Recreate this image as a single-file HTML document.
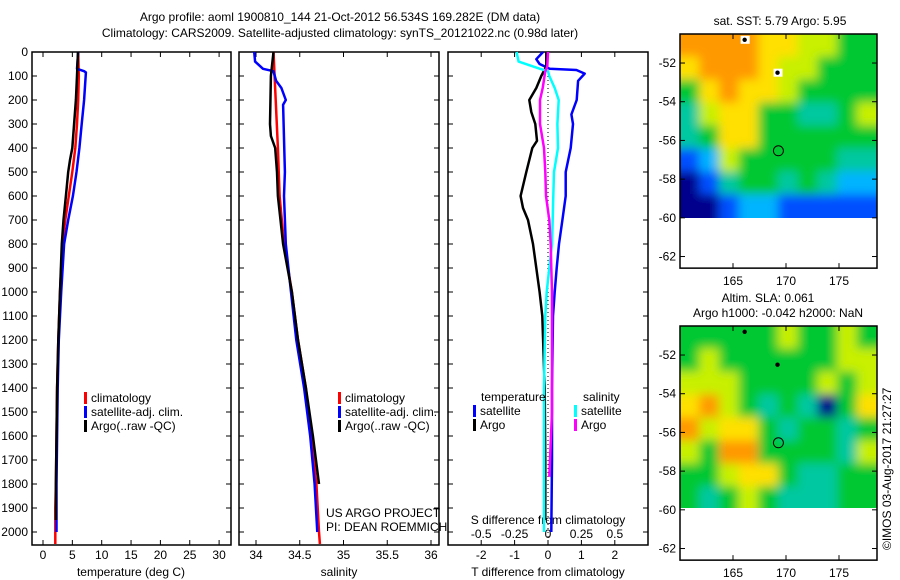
<!DOCTYPE html>
<html><head><meta charset="utf-8"><style>
html,body{margin:0;padding:0;background:#fff;}
svg{display:block;font-family:"Liberation Sans",sans-serif;}
text{font-size:12px;fill:#000;}
</style></head><body>
<svg id="fig" width="900" height="580" viewBox="0 0 900 580">
<defs>
<filter id="blur1" x="-0.2" y="-0.2" width="1.4" height="1.4"><feGaussianBlur stdDeviation="5"/></filter>
<clipPath id="clipA"><rect x="680" y="34" width="197" height="184"/></clipPath>
<clipPath id="clipB"><rect x="680" y="326" width="197" height="182"/></clipPath>
</defs>
<text x="340" y="21" text-anchor="middle">Argo profile: aoml 1900810_144 21-Oct-2012 56.534S 169.282E (DM data)</text>
<text x="340" y="37" text-anchor="middle">Climatology: CARS2009. Satellite-adjusted climatology: synTS_20121022.nc (0.98d later)</text>
<g id="g"></g>
</svg>
<script>
// ---------- data ----------
const depthTicks=[0,100,200,300,400,500,600,700,800,900,1000,1100,1200,1300,1400,1500,1600,1700,1800,1900,2000];
const tempTicks=[0,5,10,15,20,25,30];
const salTicks=[34,34.5,35,35.5,36];
const tdiffTicks=[-2,-1,0,1,2];
const sdiffTicks=[-0.5,-0.25,0,0.25,0.5];
const sdiffLabels=["-0.5","-0.25","0","0.25","0.5"];
const tempClimDepth=[0,100,200,300,400,500,600,700,800,1000,1200,1400,1600,1800,1900,2000,2050];
const tempClim=[6.0,6.1,6.0,5.8,5.5,5.0,4.4,3.8,3.3,2.9,2.6,2.4,2.3,2.2,2.1,2.1,2.1];
const tempSatDepth=[0,70,80,85,200,300,400,500,600,700,800,1000,1200,1400,1600,1800,2000];
const tempSat=[6.0,5.8,7.0,7.3,7.0,6.6,6.2,5.7,5.1,4.3,3.6,3.1,2.7,2.5,2.4,2.3,2.3];
const tempArgoDepth=[0,100,200,300,400,450,500,600,700,800,1000,1200,1400,1600,1800,1950];
const tempArgo=[5.96,5.8,5.6,5.3,5.0,4.6,4.3,3.9,3.5,3.2,2.9,2.6,2.4,2.3,2.2,2.2];
const salClimDepth=[0,200,400,600,800,1000,1200,1400,1600,1800,2000,2050];
const salClim=[34.2,34.225,34.25,34.27,34.32,34.41,34.48,34.57,34.63,34.69,34.72,34.73];
const salSatDepth=[0,40,70,80,120,150,200,220,500,600,800,1000,1200,1400,1600,1800,2000];
const salSat=[33.98,33.99,34.08,34.2,34.23,34.29,34.34,34.31,34.33,34.32,34.34,34.4,34.46,34.55,34.62,34.67,34.7];
const salArgoDepth=[0,100,300,350,400,500,600,800,1000,1200,1400,1600,1800];
const salArgo=[34.2,34.17,34.16,34.17,34.22,34.24,34.25,34.31,34.41,34.48,34.57,34.65,34.72];
const dTSatDepth=[0,30,50,70,75,90,120,200,260,300,400,500,600,700,800,900,1000,1100,1400,1700,2000];
const dTSat=[-0.15,-0.35,-0.25,0.05,0.85,1.1,0.9,0.86,0.7,0.75,0.68,0.53,0.53,0.43,0.33,0.26,0.2,0.15,0.12,0.12,0.1];
const dTArgoDepth=[0,60,100,150,200,250,300,370,400,500,600,650,700,800,900,1000,1100,1400,1700,1950];
const dTArgo=[-0.05,-0.05,-0.2,-0.35,-0.56,-0.5,-0.38,-0.33,-0.47,-0.65,-0.82,-0.75,-0.6,-0.45,-0.35,-0.25,-0.17,-0.1,-0.08,-0.08];
const dSSatDepth=[0,40,70,80,100,150,200,300,400,500,600,700,800,900,1000,1100,1400,1700,2000];
const dSSat=[-0.235,-0.22,-0.06,0,0.01,0.05,0.08,0.07,0.075,0.045,0.04,0.035,0.03,0.01,-0.01,-0.02,-0.03,-0.03,-0.03];
const dSArgoDepth=[0,60,80,150,200,300,400,500,600,700,800,900,1000,1100,1500,1770];
const dSArgo=[0,-0.005,-0.02,-0.04,-0.06,-0.06,-0.03,-0.02,-0.015,0.01,0.02,0.025,0.03,0.03,0.03,0.01];
// map grids: rows top->bottom (-50.5 .. -60), cols 160 .. 178.6; colour index 0..7
const sstGrid=[
[7,7,7,7,6,6,5,5,4,4],
[6,7,7,7,6,5,5,4,4,4],
[4,6,7,6,6,5,4,4,4,4],
[3,5,6,6,4,4,3,3,4,5],
[3,4,6,6,4,4,4,4,4,4],
[1,2,5,4,4,4,4,4,3,3],
[0,1,3,4,4,3,4,3,2,2],
[0,0,1,2,2,1,1,1,1,1]];
const slaGrid=[
[4,4,4,4,4,5,4,4,5,4],
[4,5,4,4,4,4,4,4,5,5],
[5,5,5,4,4,4,4,5,4,5],
[6,7,5,4,3,4,3,0,4,6],
[7,5,6,6,4,3,4,4,3,4],
[5,4,7,7,4,4,4,4,3,5],
[4,4,5,6,6,4,3,3,4,4],
[4,3,4,5,4,3,3,3,4,4]];
const mapLatTicks=[-52,-54,-56,-58,-60,-62];
const mapLonTicks=[165,170,175];
const floatLon=169.282, floatLat=-56.534;
const otherLon=[166.1,169.2], otherLat=[-50.8,-52.5];
const palette=["#00008c","#0050ff","#00b4ff","#00c8a0","#00c832","#c8f000","#ffe000","#ff9900"];

// ---------- helpers ----------
const NS="http://www.w3.org/2000/svg";
const G=document.getElementById('g');
function el(tag,attrs,parent){const e=document.createElementNS(NS,tag);for(const k in attrs)e.setAttribute(k,attrs[k]);(parent||G).appendChild(e);return e;}
const yD=d=>52+d*0.24;
const PY0=52,PY1=545;
function panel(x0,x1,name){
  const r=el('rect',{x:x0,y:PY0,width:x1-x0,height:PY1-PY0,fill:'none',stroke:'#000','stroke-width':1.5});
  
  
  depthTicks.forEach(d=>{
    el('line',{x1:x0,x2:x0+5,y1:yD(d),y2:yD(d),stroke:'#000'});
    el('line',{x1:x1,x2:x1-5,y1:yD(d),y2:yD(d),stroke:'#000'});
  });
}
function xTicks(x0,x1,fx,ticks,labels,name){
  ticks.forEach((t,i)=>{
    const x=fx(t);
    el('line',{x1:x,x2:x,y1:PY1,y2:PY1-5,stroke:'#000'});
    el('line',{x1:x,x2:x,y1:PY0,y2:PY0+5,stroke:'#000'});
    const tx=el('text',{x:x,y:559,'text-anchor':'middle'});tx.textContent=labels?labels[i]:String(t);
    
    
  });
}
function line(fx,vals,depths,color,name,w){
  const pts=vals.map((v,i)=>fx(v).toFixed(1)+','+yD(depths[i]).toFixed(1)).join(' ');
  const p=el('polyline',{points:pts,fill:'none',stroke:color,'stroke-width':w||2.5,'stroke-linejoin':'round'});
  
  
}
function label(x,y,s,name,anchor){const t=el('text',{x:x,y:y,'text-anchor':anchor||'start'});t.textContent=s;
  
  return t;}
function legendEntry(x,y,color,s,name){
  el('rect',{x:x,y:y-10,width:3,height:12,fill:color});
  const t=label(x+7,y,s,name);
}

// depth labels
depthTicks.forEach(d=>{label(28,yD(d)+4,String(d),'y-tick-label','end');});

// Panel 1 temperature
const fT=v=>43+v*5.87;
panel(32,231,'temperature-panel');
xTicks(32,231,fT,tempTicks,null,'temp-tick-label');
label(131,576,'temperature (deg C)','temp-x-axis-title','middle');
line(fT,tempClim,tempClimDepth,'#ff0000','temp-climatology-line');
line(fT,tempSat,tempSatDepth,'#0000ff','temp-satellite-line');
line(fT,tempArgo,tempArgoDepth,'#000000','temp-argo-line');
legendEntry(84,402,'#ff0000','climatology','legend-climatology');
legendEntry(84,416,'#0000ff','satellite-adj. clim.','legend-satellite');
legendEntry(84,430,'#000000','Argo(..raw -QC)','legend-argo');

// Panel 2 salinity
const fS=v=>256+(v-34)*87.5;
panel(239,439,'salinity-panel');
xTicks(239,439,fS,salTicks,null,'sal-tick-label');
label(339,576,'salinity','sal-x-axis-title','middle');
line(fS,salClim,salClimDepth,'#ff0000','sal-climatology-line');
line(fS,salSat,salSatDepth,'#0000ff','sal-satellite-line');
line(fS,salArgo,salArgoDepth,'#000000','sal-argo-line');
legendEntry(338,402,'#ff0000','climatology','legend-climatology-2');
legendEntry(338,416,'#0000ff','satellite-adj. clim.','legend-satellite-2');
legendEntry(338,430,'#000000','Argo(..raw -QC)','legend-argo-2');
label(326,517,'US ARGO PROJECT','credit-project');
label(326,531,'PI: DEAN ROEMMICH','credit-pi');

// Panel 3 differences
const fdT=v=>548+v*33.4;
const fdS=v=>548+v*133.6;
panel(448,648,'difference-panel');
xTicks(448,648,fdT,tdiffTicks,null,'tdiff-tick-label');
sdiffTicks.forEach((t,i)=>label(fdS(t),538,sdiffLabels[i],'sdiff-tick-label','middle'));
label(548,524,'S difference from climatology','sdiff-axis-title','middle');
label(548,576,'T difference from climatology','tdiff-x-axis-title','middle');
el('line',{x1:548,x2:548,y1:PY0,y2:PY1,stroke:'#000','stroke-dasharray':'1,3'});
line(fdT,dTSat,dTSatDepth,'#0000ff','tdiff-satellite-line');
line(fdT,dTArgo,dTArgoDepth,'#000000','tdiff-argo-line');
line(fdS,dSSat,dSSatDepth,'#00ffff','sdiff-satellite-line');
line(fdS,dSArgo,dSArgoDepth,'#ff00ff','sdiff-argo-line');
label(481,401,'temperature','legend-temperature-header');
label(583,401,'salinity','legend-salinity-header');
legendEntry(473,415,'#0000ff','satellite','legend-tdiff-satellite');
legendEntry(473,429,'#000000','Argo','legend-tdiff-argo');
legendEntry(574,415,'#00ffff','satellite','legend-sdiff-satellite');
legendEntry(574,429,'#ff00ff','Argo','legend-sdiff-argo');

// Maps
function map(top,grid,clip,name,dotsWhite){
  const X0=680,X1=877,latTop=-50.5,pxLat=19.35;
  const fLon=v=>680+(v-160)*10.6;
  const fLat=v=>top+(latTop-v)*pxLat;
  const yEnd=fLat(-60);
  const g=el('g',{'clip-path':'url(#'+clip+')'});
  
  
  const inner=el('g',{filter:'url(#blur1)'},g);
  const rows=grid.length,cols=grid[0].length;
  const cw=(X1-X0)/cols, ch=(yEnd-top)/rows;
  const pad=16;
  grid.forEach((row,r)=>row.forEach((v,c)=>{
    let x=X0+c*cw-0.5, y=top+r*ch-0.5, w=cw+1, h=ch+1;
    if(c===0){x-=pad;w+=pad;} if(c===cols-1){w+=pad;}
    if(r===0){y-=pad;h+=pad;} if(r===rows-1){h+=pad;}
    el('rect',{x:x.toFixed(1),y:y.toFixed(1),width:w.toFixed(1),height:h.toFixed(1),fill:palette[v]},inner);
  }));
  const bottom=fLat(-62.6);
  const fr=el('rect',{x:X0,y:top,width:X1-X0,height:bottom-top,fill:'none',stroke:'#000','stroke-width':1.5});
  
  
  mapLatTicks.forEach(t=>{const y=fLat(t);
    el('line',{x1:X0,x2:X0+5,y1:y,y2:y,stroke:'#000'});el('line',{x1:X1,x2:X1-5,y1:y,y2:y,stroke:'#000'});
    label(676,y+4,String(t),name+'-lat-label','end');});
  mapLonTicks.forEach(t=>{const x=fLon(t);
    el('line',{x1:x,x2:x,y1:bottom,y2:bottom-5,stroke:'#000'});el('line',{x1:x,x2:x,y1:top,y2:top+5,stroke:'#000'});
    label(x,bottom+17,String(t),name+'-lon-label','middle');});
  otherLon.forEach((lo,i)=>{const x=fLon(lo),y=fLat(otherLat[i]);
    if(dotsWhite) el('rect',{x:x-4,y:y-4,width:9,height:8,fill:'#fff'});
    const d=el('circle',{cx:x,cy:y,r:2.2,fill:'#000'});
    
    });
  const c=el('circle',{cx:fLon(floatLon),cy:fLat(floatLat),r:5,fill:'none',stroke:'#000','stroke-width':1});
  
  
}
label(780,25,'sat. SST: 5.79 Argo: 5.95','sst-map-title','middle');
map(34,sstGrid,'clipA','sst-map',true);
label(768,302,'Altim. SLA: 0.061','sla-map-title','middle');
label(778,317,'Argo h1000: -0.042 h2000: NaN','sla-map-subtitle','middle');
map(326,slaGrid,'clipB','sla-map',false);
const cp=el('text',{x:0,y:0,transform:'translate(891,550) rotate(-90)'});
cp.textContent='©IMOS 03-Aug-2017 21:27:27';


</script>
</body></html>
